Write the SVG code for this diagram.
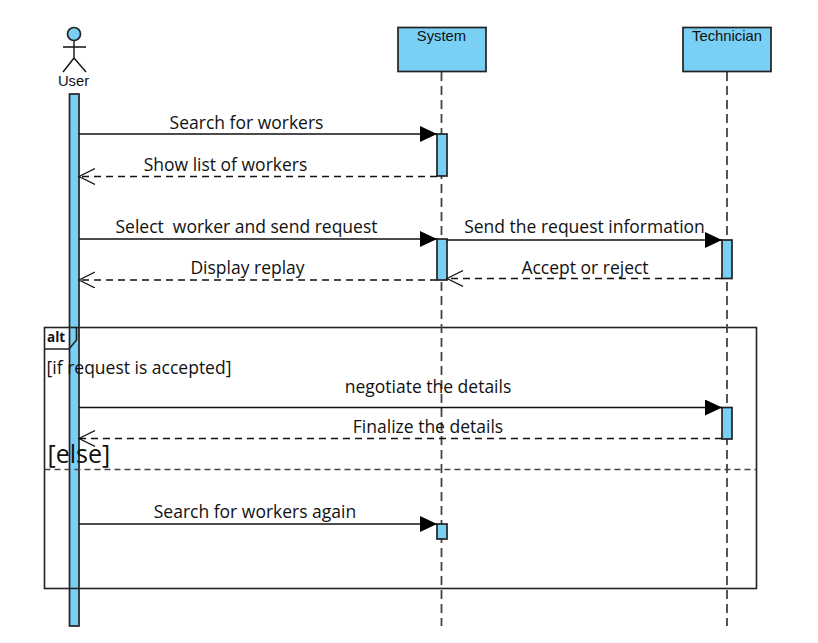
<svg xmlns="http://www.w3.org/2000/svg" width="818" height="643" viewBox="0 0 818 643">
<style>
.box{fill:#7acff5;stroke:#222;stroke-width:1.7}
.life{fill:none;stroke:#444;stroke-width:1.8;stroke-dasharray:9 5}
.msg{fill:none;stroke:#111;stroke-width:1.4}
.ret{fill:none;stroke:#111;stroke-width:1.4;stroke-dasharray:7 5}
.frame{fill:none;stroke:#222;stroke-width:1.6}
.stick{fill:none;stroke:#111;stroke-width:1.4}
.n{font-family:"Liberation Sans",Arial,sans-serif;font-size:14.800px;fill:#111;text-anchor:middle}
.l{font-family:"Open Sans","Noto Sans",sans-serif;font-size:17.500px;fill:#111;text-anchor:middle;white-space:pre}
</style>
<defs>
<marker id="solid" markerUnits="userSpaceOnUse" markerWidth="18" markerHeight="18" refX="17" refY="8" orient="auto"><path d="M0 0L17 8L0 16Z" fill="#000"/></marker>
<marker id="open" markerUnits="userSpaceOnUse" markerWidth="18" markerHeight="18" refX="16" refY="8" orient="auto"><path d="M0 0L16 8L0 16" fill="none" stroke="#111" stroke-width="1.2"/></marker>
</defs>
<g id="user">
<circle class="box" cx="74" cy="34" r="6.500"/>
<path class="stick" d="M74 41V58M63 47H86M74 58L63 72M74 58L86 72"/>
<text class="n" x="73.500" y="85.500">User</text>
<rect class="box" x="69.500" y="94" width="9.500" height="532"/>
</g>
<g id="frame-alt">
<rect class="frame" x="44.500" y="327.500" width="712" height="261"/>
<path class="frame" d="M44.500 349H69L76.500 340V327.500"/>
<line x1="44.500" y1="469.500" x2="756.500" y2="469.500" stroke="#444" stroke-width="1.500" stroke-dasharray="6 4"/>
</g>
<g id="system">
<line class="life" x1="441.500" y1="72" x2="441.500" y2="626"/>
<rect class="box" x="398" y="27.500" width="88" height="44"/>
<text class="n" x="441.500" y="41">System</text>
<rect class="box" x="437" y="134" width="10" height="42"/>
<rect class="box" x="437" y="239" width="10" height="41"/>
<rect class="box" x="437" y="524" width="10" height="15"/>
</g>
<g id="technician">
<line class="life" x1="727" y1="72" x2="727" y2="626"/>
<rect class="box" x="683" y="27.500" width="88" height="44"/>
<text class="n" x="727" y="41">Technician</text>
<rect class="box" x="722" y="240" width="10" height="38.500"/>
<rect class="box" x="722" y="407.500" width="10" height="31.500"/>
</g>
<g id="connectors">
<line class="msg" x1="79" y1="134" x2="437" y2="134" marker-end="url(#solid)"/>
<line class="ret" x1="437" y1="176.500" x2="79" y2="176.500" marker-end="url(#open)"/>
<line class="msg" x1="79" y1="239" x2="437" y2="239" marker-end="url(#solid)"/>
<line class="msg" x1="447" y1="240" x2="722" y2="240" marker-end="url(#solid)"/>
<line class="ret" x1="437" y1="280" x2="79" y2="280" marker-end="url(#open)"/>
<line class="ret" x1="722" y1="278.500" x2="447" y2="278.500" marker-end="url(#open)"/>
<line class="msg" x1="79" y1="407.500" x2="722" y2="407.500" marker-end="url(#solid)"/>
<line class="ret" x1="722" y1="438.500" x2="79" y2="438.500" marker-end="url(#open)"/>
<line class="msg" x1="79" y1="524" x2="437" y2="524" marker-end="url(#solid)"/>
</g>
<g id="labels">
<text class="l" x="246.500" y="128.500">Search for workers</text>
<text class="l" x="225.500" y="170.500">Show list of workers</text>
<text class="l" x="246.500" y="233">Select  worker and send request</text>
<text class="l" x="584.500" y="232.500">Send the request information</text>
<text class="l" x="247.500" y="273.500">Display replay</text>
<text class="l" x="585" y="273.500">Accept or reject</text>
<text font-family="Open Sans,Noto Sans,sans-serif" font-size="13.500" font-weight="700" fill="#111" x="47" y="342">alt</text>
<text class="l" x="139" y="373.500">[if request is accepted]</text>
<text class="l" x="428" y="392.500">negotiate the details</text>
<text class="l" x="428" y="432.500">Finalize the details</text>
<text font-family="Open Sans,Noto Sans,sans-serif" font-size="25" fill="#111" x="47.500" y="463">[else]</text>
<text class="l" x="255" y="517.500">Search for workers again</text>
</g>
</svg>
